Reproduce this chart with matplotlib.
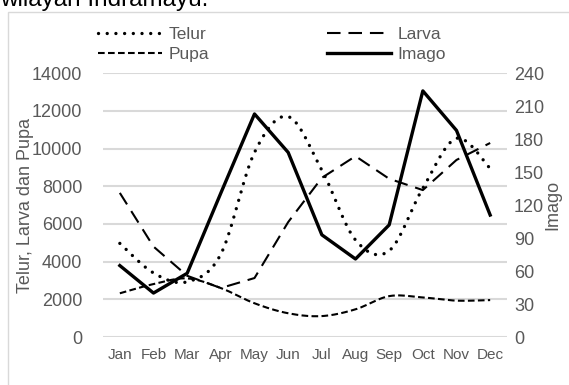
import numpy as np
import matplotlib
matplotlib.use("Agg")
import matplotlib.pyplot as plt
from matplotlib.lines import Line2D
from matplotlib.patches import Rectangle

plt.rcParams['font.family'] = ['Liberation Sans', 'DejaVu Sans']

months = ['Jan', 'Feb', 'Mar', 'Apr', 'May', 'Jun', 'Jul', 'Aug', 'Sep', 'Oct', 'Nov', 'Dec']
telur = [4970, 3400, 2930, 4400, 9800, 11700, 8860, 5150, 4580, 7900, 10550, 8950]
larva = [7650, 4800, 3250, 2600, 3130, 6100, 8450, 9600, 8400, 7800, 9400, 10300]
pupa = [2320, 2810, 3110, 2600, 1790, 1260, 1110, 1470, 2170, 2100, 1930, 1960]
imago = [65, 40, 58, 131, 203, 168, 93, 71, 102, 224, 188, 111]

left_ticks = [0, 2000, 4000, 6000, 8000, 10000, 12000, 14000]
right_ticks = [0, 30, 60, 90, 120, 150, 180, 210, 240]

GRAY = '#595959'


def smooth(xs, ys, n=20):
    """Cubic Bezier smoothing through every point (spreadsheet-style)."""
    p = np.column_stack([xs, ys]).astype(float)
    out = [p[0]]
    m = len(p)
    for i in range(m - 1):
        p0 = p[i - 1] if i > 0 else p[i]
        p1, p2 = p[i], p[i + 1]
        p3 = p[i + 2] if i + 2 < m else p[i + 1]
        c1 = p1 + (p2 - p0) / 6.0
        c2 = p2 - (p3 - p1) / 6.0
        t = np.linspace(0, 1, n)[1:, None]
        seg = ((1 - t) ** 3) * p1 + 3 * ((1 - t) ** 2) * t * c1 + 3 * (1 - t) * t ** 2 * c2 + t ** 3 * p2
        out.extend(seg)
    out = np.array(out)
    return out[:, 0], out[:, 1]


fig = plt.figure(figsize=(5.69, 3.85), dpi=100)
W, H = 569, 385

# chart frame and the caption line above it
fig.patches.append(Rectangle((8 / W, -0.1), 1.2, 1 - 12 / H + 0.1, transform=fig.transFigure,
                             fill=False, edgecolor='#d9d9d9', linewidth=1.0))
fig.text(0.0, 1 - 6 / H, 'wilayah Indramayu.', fontsize=17.5, color='black',
         ha='left', va='baseline')

ax_w = 507 - 103
ax = fig.add_axes([103 / W, 1 - 337 / H, ax_w / W, (337 - 73.3) / H])
ax2 = ax.twinx()

x = np.arange(len(months))

ax.set_ylim(0, 14000)
ax.set_xlim(-0.5, len(months) - 0.5)
ax2.set_ylim(0, 240)
ax.set_yticks(left_ticks)
ax2.set_yticks(right_ticks)
ax.set_xticks(x)
ax.set_xticklabels(months)

for a in (ax, ax2):
    for s in a.spines.values():
        s.set_visible(False)
    a.tick_params(length=0, colors=GRAY)

ax.tick_params(axis='y', labelsize=13, pad=15)
ax.tick_params(axis='x', labelsize=11, pad=8)
ax2.tick_params(axis='y', labelsize=13, pad=5)
ax.grid(axis='y', color='#d9d9d9', linewidth=1.5)
ax.set_axisbelow(True)

ax.set_ylabel('Telur, Larva dan Pupa', fontsize=13, color=GRAY)
ax.yaxis.set_label_coords((34 - 103) / ax_w, 0.5)
ax2.set_ylabel('Imago', fontsize=13, color=GRAY)
ax2.yaxis.set_label_coords((544 - 103) / ax_w, 0.5)

dot_style = dict(color='black', linewidth=2.4, linestyle=(0, (0.01, 2.6)),
                 dash_capstyle='round')
larva_style = dict(color='black', linewidth=1.5, linestyle=(0, (6.5, 3.8)))
pupa_style = dict(color='black', linewidth=1.5, linestyle=(0, (3.2, 1.6)))
imago_style = dict(color='black', linewidth=2.4, linestyle='-')

sx, sy = smooth(x, telur)
ax.plot(sx, sy, **dot_style)
ax.plot(x, larva, **larva_style)
sx, sy = smooth(x, pupa)
ax.plot(sx, sy, **pupa_style)
ax2.plot(x, imago, **imago_style)

handles = [Line2D([], [], **dot_style), Line2D([], [], **pupa_style),
           Line2D([], [], **larva_style), Line2D([], [], **imago_style)]
labels = ['Telur', 'Pupa', 'Larva', 'Imago']
leg = fig.legend(handles, labels, ncol=2, loc='upper left',
                 bbox_to_anchor=(86 / W, 1 - 15 / H), frameon=False,
                 fontsize=12.5, handlelength=3.7, handletextpad=0.35,
                 columnspacing=6.8, labelspacing=0.25, borderpad=0.2)
for t in leg.get_texts():
    t.set_color(GRAY)

fig.savefig('out.png', dpi=100)
